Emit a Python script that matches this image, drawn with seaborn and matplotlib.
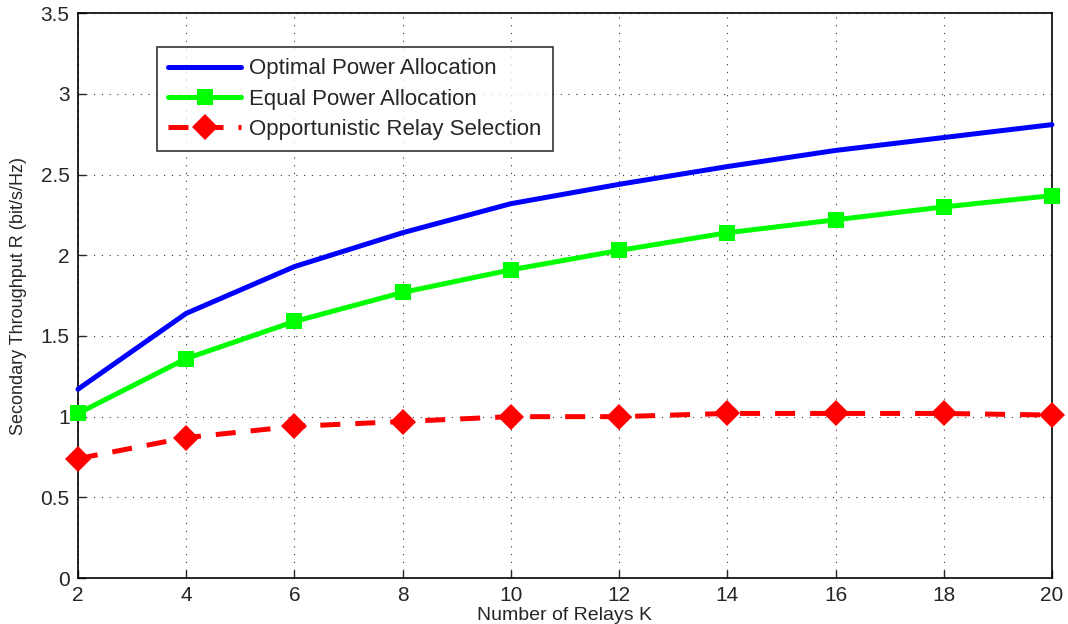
import seaborn as sns
import pandas as pd
import matplotlib.pyplot as plt

relays = [2, 4, 6, 8, 10, 12, 14, 16, 18, 20]
optimal = [1.17, 1.64, 1.93, 2.14, 2.32, 2.44, 2.55, 2.65, 2.73, 2.81]
equal = [1.02, 1.36, 1.59, 1.77, 1.91, 2.03, 2.14, 2.22, 2.30, 2.37]
opportunistic = [0.74, 0.87, 0.94, 0.97, 1.00, 1.00, 1.02, 1.02, 1.02, 1.01]
labels = ["Optimal Power Allocation", "Equal Power Allocation",
          "Opportunistic Relay Selection"]

sns.set_style("ticks")
plt.rcParams['font.family'] = ['Liberation Sans', 'DejaVu Sans']

fig = plt.figure(figsize=(10.68, 6.24), dpi=100)
ax = fig.add_axes([0.073, 0.0737, 0.912, 0.905])

sns.lineplot(x=relays, y=optimal, color="#0000ff", linewidth=3.6,
             label=labels[0], ax=ax, clip_on=False, zorder=3)
sns.lineplot(x=relays, y=equal, color="#00ff00", linewidth=3.6,
             marker="s", markersize=12, markeredgewidth=0,
             label=labels[1], ax=ax, clip_on=False, zorder=3)
sns.lineplot(x=relays, y=opportunistic, color="#ff0000", linewidth=3.6,
             marker="D", markersize=13, markeredgewidth=0, dashes=(4, 3),
             label=labels[2], ax=ax, clip_on=False, zorder=3)

ax.set_xlim(2, 20)
ax.set_ylim(0, 3.5)
ax.set_xticks(relays)
ax.set_yticks([0, 0.5, 1, 1.5, 2, 2.5, 3, 3.5])
ax.set_yticklabels(["0", "0.5", "1", "1.5", "2", "2.5", "3", "3.5"])
ax.grid(True, linestyle=(0, (1, 6)), color="black", linewidth=0.8, alpha=0.8)
ax.tick_params(direction="in", length=6, labelsize=15, width=1, pad=6)
for s in ax.spines.values():
    s.set_visible(True)
    s.set_linewidth(1.2)
    s.set_color("black")

ax.set_xlabel("Number of Relays K", fontsize=14, labelpad=1)
ax.set_ylabel("Secondary Throughput R (bit/s/Hz)", fontsize=13, labelpad=10)

handles, labs = ax.get_legend_handles_labels()
leg = ax.legend(handles, labs, loc="upper left", bbox_to_anchor=(0.081, 0.94),
                fontsize=16, frameon=True, fancybox=False, edgecolor="black",
                handlelength=3.3, handletextpad=0.35, borderpad=0.5,
                labelspacing=0.42, borderaxespad=0)
leg.get_frame().set_linewidth(1.2)

fig.savefig("out.png", dpi=100)
